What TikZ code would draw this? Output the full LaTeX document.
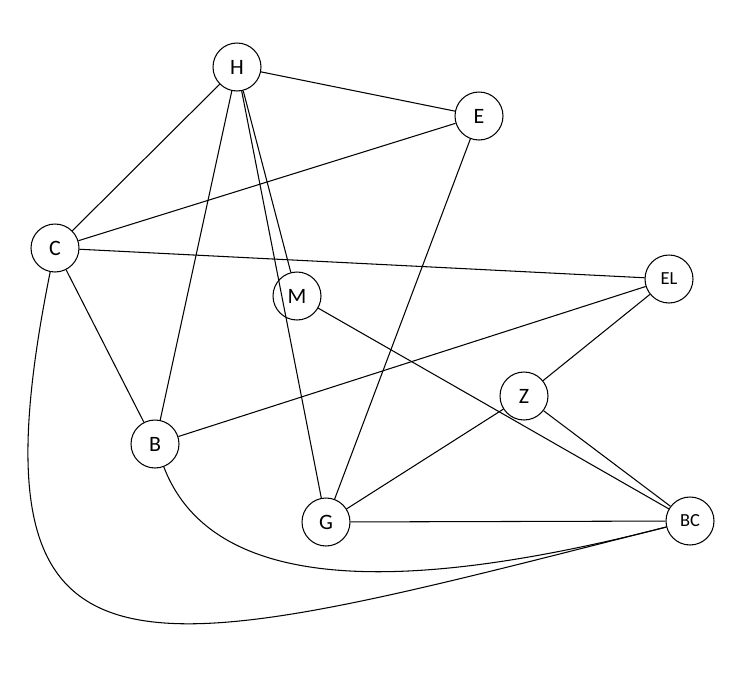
\documentclass[tikz,border=0pt]{standalone}
\usepackage{fontspec}
\setmainfont{Carlito}
\usepackage{tikz}

\tikzset{
  vertex/.style={draw, circle, minimum size=0.96cm, inner sep=0pt, line width=0.6pt,
                 font=\fontsize{12.5}{15}\selectfont},
  smallvertex/.style={vertex, font=\fontsize{10.5}{12}\selectfont},
  edge/.style={line width=0.6pt}
}

\begin{document}
\begin{tikzpicture}[x=0.02cm, y=-0.02cm]

% =========================
% CANVAS
% =========================
\useasboundingbox (0,0) rectangle (755,694);

% =========================
% VERTICES
% =========================
\node[vertex] (H) at (237,67) {H};
\node[vertex] (E) at (479,116) {E};
\node[vertex] (C) at (55,248) {C};
\node[smallvertex] (EL) at (669,279) {EL};
\node[vertex] (M) at (297,296) {M};
\node[vertex] (Z) at (524,396) {Z};
\node[vertex] (B) at (155,444) {B};
\node[vertex] (G) at (326,522) {G};
\node[smallvertex] (BC) at (690,521) {BC};

% =========================
% STRAIGHT EDGES
% =========================
\draw[edge] (H) -- (E);
\draw[edge] (H) -- (C);
\draw[edge] (H) -- (B);
\draw[edge] (H) -- (M);
\draw[edge] (H) -- (G);
\draw[edge] (C) -- (E);
\draw[edge] (C) -- (EL);
\draw[edge] (C) -- (B);
\draw[edge] (E) -- (G);
\draw[edge] (M) -- (BC);
\draw[edge] (EL) -- (B);
\draw[edge] (EL) -- (Z);
\draw[edge] (Z) -- (G);
\draw[edge] (Z) -- (BC);
\draw[edge] (G) -- (BC);

% =========================
% CURVED EDGES
% =========================
\draw[edge] (B) .. controls (215,600) and (420,590) .. (BC);
\draw[edge] (C) .. controls (-40,720) and (140,660) .. (BC);

\end{tikzpicture}
\end{document}
